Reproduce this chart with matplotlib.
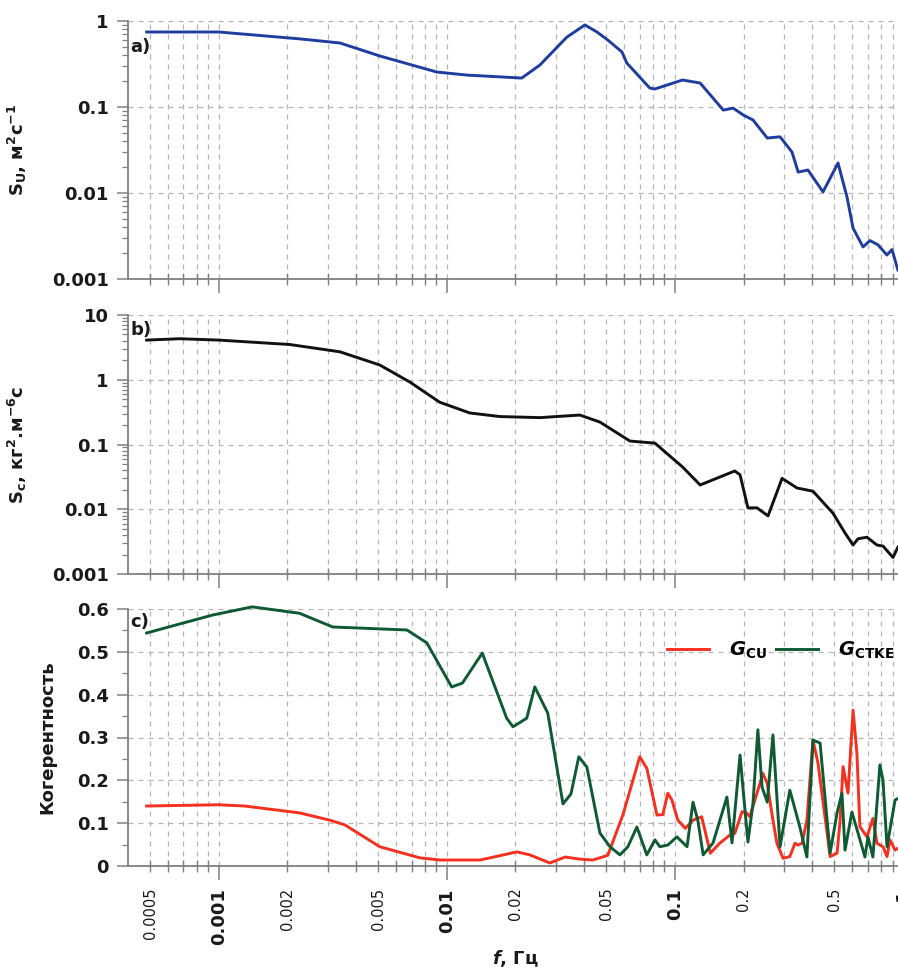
import matplotlib
matplotlib.use("Agg")
import matplotlib.pyplot as plt
from matplotlib.ticker import FixedLocator, FixedFormatter, NullFormatter, LogLocator

plt.rcParams["font.family"] = ["DejaVu Sans"]
plt.rcParams["mathtext.fontset"] = "dejavusans"
plt.rcParams["mathtext.default"] = "bf"

# ---- spectrum of U (panel a) ----
freq_u = [0.000483, 0.001, 0.00226, 0.0034, 0.00508, 0.00904, 0.01225, 0.0213,
          0.0256, 0.0336, 0.0403, 0.0455, 0.0508, 0.0586, 0.0615, 0.0776, 0.0817,
          0.108, 0.129, 0.163, 0.180, 0.199, 0.22, 0.254, 0.289, 0.326, 0.347,
          0.383, 0.446, 0.519, 0.568, 0.604, 0.668, 0.716, 0.776, 0.85, 0.895, 0.95]
s_u = [0.745, 0.745, 0.62, 0.555, 0.392, 0.255, 0.235, 0.217,
       0.308, 0.65, 0.9, 0.745, 0.60, 0.436, 0.325, 0.166, 0.162,
       0.206, 0.19, 0.092, 0.097, 0.081, 0.0706, 0.0436, 0.045, 0.030, 0.0175,
       0.0185, 0.0103, 0.0223, 0.009, 0.0039, 0.00236, 0.0028, 0.0025, 0.0019, 0.0022, 0.00127]

# ---- spectrum of C (panel b) ----
freq_c = [0.000483, 0.000674, 0.001, 0.00205, 0.0034, 0.00508, 0.00689, 0.0093,
          0.0126, 0.0171, 0.0256, 0.0383, 0.0469, 0.0635, 0.0817, 0.108, 0.129,
          0.183, 0.193, 0.209, 0.229, 0.256, 0.295, 0.343, 0.403, 0.493, 0.557,
          0.604, 0.635, 0.695, 0.769, 0.817, 0.904, 0.95]
s_c = [4.1, 4.3, 4.1, 3.5, 2.7, 1.69, 0.92, 0.45,
       0.307, 0.27, 0.26, 0.285, 0.222, 0.113, 0.105, 0.045, 0.0237,
       0.039, 0.034, 0.0105, 0.0105, 0.0079, 0.030, 0.0213, 0.019, 0.0087, 0.0043,
       0.0028, 0.0035, 0.0037, 0.0028, 0.0027, 0.0018, 0.0026]

# ---- coherence C-TKE (panel c, green) ----
freq_ctke = [0.000483, 0.000695, 0.000942, 0.0014, 0.00226, 0.00316, 0.00668, 0.00817,
             0.0105, 0.0117, 0.0143, 0.0183, 0.0195, 0.0224, 0.0243, 0.0277, 0.0323,
             0.035, 0.0379, 0.0411, 0.0469, 0.0519, 0.0574, 0.0622, 0.0681, 0.0753,
             0.0817, 0.0859, 0.0931, 0.102, 0.113, 0.12, 0.126, 0.133, 0.147, 0.169,
             0.178, 0.193, 0.201, 0.209, 0.22, 0.231, 0.241, 0.254, 0.269, 0.289,
             0.319, 0.353, 0.379, 0.403, 0.433, 0.479, 0.514, 0.54, 0.557, 0.597,
             0.635, 0.681, 0.702, 0.738, 0.792, 0.817, 0.851, 0.923, 0.97]
g_ctke = [0.544, 0.567, 0.586, 0.605, 0.59, 0.558, 0.551, 0.521,
          0.418, 0.427, 0.497, 0.345, 0.325, 0.345, 0.418, 0.357, 0.145,
          0.168, 0.255, 0.231, 0.077, 0.045, 0.026, 0.045, 0.091, 0.026,
          0.061, 0.045, 0.049, 0.068, 0.045, 0.149, 0.107, 0.026, 0.054, 0.161,
          0.054, 0.259, 0.154, 0.056, 0.147, 0.318, 0.184, 0.149, 0.306, 0.045,
          0.177, 0.091, 0.021, 0.294, 0.287, 0.030, 0.124, 0.17, 0.037, 0.126,
          0.077, 0.021, 0.068, 0.021, 0.236, 0.2, 0.045, 0.154, 0.16]

# ---- coherence C-U (panel c, red) ----
freq_cu = [0.000483, 0.001, 0.0013, 0.00226, 0.00307, 0.00357, 0.00508, 0.00762,
           0.0093, 0.014, 0.0203, 0.0231, 0.0283, 0.033, 0.0383, 0.0437, 0.0508,
           0.0592, 0.0701, 0.0753, 0.0834, 0.0885, 0.0931, 0.097, 0.103, 0.111,
           0.12, 0.131, 0.143, 0.157, 0.174, 0.183, 0.197, 0.207, 0.213, 0.229,
           0.243, 0.254, 0.266, 0.28, 0.298, 0.319, 0.336, 0.346, 0.361, 0.379,
           0.403, 0.424, 0.465, 0.479, 0.514, 0.53, 0.546, 0.574, 0.604, 0.628,
           0.647, 0.695, 0.738, 0.769, 0.817, 0.851, 0.877, 0.923, 0.97]
g_cu = [0.14, 0.143, 0.14, 0.124, 0.107, 0.096, 0.045, 0.019,
        0.014, 0.014, 0.033, 0.026, 0.007, 0.021, 0.016, 0.014, 0.025,
        0.12, 0.255, 0.228, 0.119, 0.12, 0.170, 0.154, 0.107, 0.088,
        0.107, 0.115, 0.030, 0.053, 0.072, 0.076, 0.127, 0.123, 0.115, 0.170,
        0.216, 0.193, 0.123, 0.053, 0.018, 0.022, 0.053, 0.049, 0.053, 0.107,
        0.294, 0.240, 0.076, 0.022, 0.030, 0.107, 0.232, 0.170, 0.364, 0.263,
        0.092, 0.068, 0.111, 0.053, 0.045, 0.022, 0.061, 0.037, 0.045]

# ---- axis ticks ----
x_major = [0.001, 0.01, 0.1, 1]
x_major_labels = ["0.001", "0.01", "0.1", "1"]
x_minor = [0.0005, 0.0006, 0.0007, 0.0008, 0.0009,
           0.002, 0.003, 0.004, 0.005, 0.006, 0.007, 0.008, 0.009,
           0.02, 0.03, 0.04, 0.05, 0.06, 0.07, 0.08, 0.09,
           0.2, 0.3, 0.4, 0.5, 0.6, 0.7, 0.8, 0.9]
x_minor_labels = ["0.0005", "", "", "", "",
                  "0.002", "", "", "0.005", "", "", "", "",
                  "0.02", "", "", "0.05", "", "", "", "",
                  "0.2", "", "", "0.5", "", "", "", ""]
ya_ticks = [0.001, 0.01, 0.1, 1]
ya_labels = ["0.001", "0.01", "0.1", "1"]
yb_ticks = [0.001, 0.01, 0.1, 1, 10]
yb_labels = ["0.001", "0.01", "0.1", "1", "10"]
yc_ticks = [0, 0.1, 0.2, 0.3, 0.4, 0.5, 0.6]
yc_labels = ["0", "0.1", "0.2", "0.3", "0.4", "0.5", "0.6"]
yc_minor = [0.05, 0.15, 0.25, 0.35, 0.45, 0.55]

W, H = 898, 972
fig = plt.figure(figsize=(W / 100, H / 100), dpi=100)

left = 128 / W
width = 775 / W
ax_a = fig.add_axes([left, 1 - 279 / H, width, 258 / H])
ax_b = fig.add_axes([left, 1 - 574 / H, width, 259 / H])
ax_c = fig.add_axes([left, 1 - 866 / H, width, 257 / H])

spine_col = "#808080"
grid_kw = dict(color="#b5b5b5", linestyle=(0, (4, 4)), linewidth=0.9)


def style_axes(ax, show_xlabels):
    ax.set_xscale("log")
    ax.set_xlim(0.0004, 1.0)
    ax.xaxis.set_major_locator(FixedLocator(x_major))
    ax.xaxis.set_minor_locator(FixedLocator(x_minor))
    if show_xlabels:
        ax.xaxis.set_major_formatter(FixedFormatter(x_major_labels))
        ax.xaxis.set_minor_formatter(FixedFormatter(x_minor_labels))
    else:
        ax.xaxis.set_major_formatter(NullFormatter())
        ax.xaxis.set_minor_formatter(NullFormatter())
    for s in ("top", "right"):
        ax.spines[s].set_visible(False)
    for s in ("left", "bottom"):
        ax.spines[s].set_color(spine_col)
        ax.spines[s].set_linewidth(1.3)
    ax.tick_params(axis="x", which="major", direction="out", length=10, width=1.1,
                   color=spine_col, labelsize=13, pad=6, labelrotation=90,
                   labelcolor="#1a1a1a")
    ax.tick_params(axis="x", which="minor", direction="inout", length=9, width=1.0,
                   color=spine_col, labelsize=10.5, pad=11, labelrotation=90,
                   labelcolor="#1a1a1a")
    ax.tick_params(axis="y", which="major", direction="out", length=8, width=1.1,
                   color=spine_col, labelsize=13, pad=6, labelcolor="#1a1a1a")
    ax.tick_params(axis="y", which="minor", direction="out", length=4, width=0.9,
                   color=spine_col)
    ax.grid(True, which="both", axis="x", **grid_kw)
    ax.grid(True, which="major", axis="y", **grid_kw)
    ax.set_axisbelow(True)
    for lbl in ax.get_yticklabels():
        lbl.set_fontweight("bold")
    for lbl in ax.get_xticklabels():
        lbl.set_fontweight("bold")


# panel a
ax_a.plot(freq_u, s_u, color="#1f3d9e", linewidth=2.1, solid_joinstyle="round")
ax_a.set_yscale("log")
ax_a.set_ylim(0.001, 1)
ax_a.yaxis.set_major_locator(FixedLocator(ya_ticks))
ax_a.yaxis.set_major_formatter(FixedFormatter(ya_labels))
ax_a.yaxis.set_minor_locator(LogLocator(base=10, subs=range(2, 10)))
ax_a.yaxis.set_minor_formatter(NullFormatter())
style_axes(ax_a, False)
ax_a.set_ylabel("S$_\\mathbf{U}$, м$^\\mathbf{2}$с$^\\mathbf{-1}$", fontsize=13,
                fontweight="bold", color="#1a1a1a")
ax_a.yaxis.set_label_coords(-0.128, 0.5)
ax_a.text(0.003, 0.935, "a)", transform=ax_a.transAxes, fontsize=13,
          fontweight="bold", va="top", ha="left", color="#1a1a1a")

# panel b
ax_b.plot(freq_c, s_c, color="#111111", linewidth=2.1, solid_joinstyle="round")
ax_b.set_yscale("log")
ax_b.set_ylim(0.001, 10)
ax_b.yaxis.set_major_locator(FixedLocator(yb_ticks))
ax_b.yaxis.set_major_formatter(FixedFormatter(yb_labels))
ax_b.yaxis.set_minor_locator(LogLocator(base=10, subs=range(2, 10)))
ax_b.yaxis.set_minor_formatter(NullFormatter())
style_axes(ax_b, False)
ax_b.set_ylabel("S$_\\mathbf{c}$, кг$^\\mathbf{2}$.м$^\\mathbf{-6}$с", fontsize=13,
                fontweight="bold", color="#1a1a1a")
ax_b.yaxis.set_label_coords(-0.128, 0.5)
ax_b.text(0.003, 0.975, "b)", transform=ax_b.transAxes, fontsize=13,
          fontweight="bold", va="top", ha="left", color="#1a1a1a")

# panel c
ax_c.plot(freq_cu, g_cu, color="#f5301e", linewidth=2.1, solid_joinstyle="round",
          label="$\\mathbfit{G}_\\mathbf{CU}$", clip_on=False)
ax_c.plot(freq_ctke, g_ctke, color="#0e5a32", linewidth=2.1, solid_joinstyle="round",
          label="$\\mathbfit{G}_\\mathbf{CTKE}$", clip_on=False)
ax_c.set_ylim(0, 0.6)
ax_c.yaxis.set_major_locator(FixedLocator(yc_ticks))
ax_c.yaxis.set_major_formatter(FixedFormatter(yc_labels))
ax_c.yaxis.set_minor_locator(FixedLocator(yc_minor))
style_axes(ax_c, True)
ax_c.set_ylabel("Когерентность", fontsize=13, fontweight="bold", color="#1a1a1a")
ax_c.yaxis.set_label_coords(-0.093, 0.5)
ax_c.text(0.003, 0.985, "c)", transform=ax_c.transAxes, fontsize=13,
          fontweight="bold", va="top", ha="left", color="#1a1a1a")
ax_c.set_xlabel("$\\mathbfit{f}$, Гц", fontsize=13, fontweight="bold", color="#1a1a1a",
                labelpad=2)
ax_c.legend(loc="center left", bbox_to_anchor=(0.695, 0.84), ncol=2, frameon=False,
            fontsize=14, handlelength=2.2, handletextpad=1.0, columnspacing=0.45,
            borderpad=0, borderaxespad=0)

fig.savefig("out.png", dpi=100)
